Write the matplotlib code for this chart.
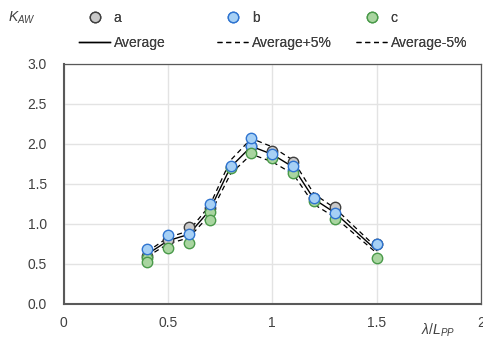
import matplotlib.pyplot as plt
import numpy as np

plt.rcParams['font.family'] = ['Liberation Sans', 'DejaVu Sans']
plt.rcParams['mathtext.fontset'] = 'custom'
plt.rcParams['mathtext.it'] = 'Liberation Sans:italic'
plt.rcParams['mathtext.rm'] = 'Liberation Sans'

# wave length ratio
x = [0.4, 0.5, 0.6, 0.7, 0.8, 0.9, 1.0, 1.1, 1.2, 1.3, 1.5]
a = [0.60, 0.80, 0.96, 1.20, 1.71, 1.98, 1.91, 1.78, 1.33, 1.21, 0.75]
b = [0.69, 0.86, 0.88, 1.25, 1.73, 2.07, 1.87, 1.72, 1.33, 1.14, 0.75]
c = [0.53, 0.70, 0.76, 1.05, 1.70, 1.89, 1.83, 1.64, 1.29, 1.06, 0.57]
c2 = [0.58, None, None, 1.15, None, None, None, None, None, None, None]
b2 = [None, None, None, None, None, 1.97, None, 1.68, None, None, None]
avg = [0.62, 0.79, 0.87, 1.17, 1.71, 1.97, 1.87, 1.71, 1.31, 1.14, 0.67]

avg = np.array(avg)
grey = '#595959'

fig = plt.figure(figsize=(4.83, 3.40), dpi=100)
ax = fig.add_axes([0.1315, 0.106, 0.8644, 0.706])

l1, = ax.plot(x, avg, color='black', lw=1.0, zorder=3)
l2, = ax.plot(x, avg * 1.05, color='black', lw=0.9, ls=(0, (4, 3)), zorder=3)
l3, = ax.plot(x, avg * 0.95, color='black', lw=0.9, ls=(0, (4, 3)), zorder=3)

mk = dict(marker='o', ms=7.5, mew=1.0, ls='none', zorder=4)
ha, = ax.plot(x, a, mfc='#c9c9c9', mec='#404040', **mk)
xs = [xi for xi, v in zip(x, c2) if v is not None]
ax.plot(xs, [v for v in c2 if v is not None], mfc='#a9d5a0', mec='#4a9a4a', **mk)
xs = [xi for xi, v in zip(x, b2) if v is not None]
ax.plot(xs, [v for v in b2 if v is not None], mfc='#a6d0f5', mec='#2f74d0', **mk)
hc, = ax.plot(x, c, mfc='#a9d5a0', mec='#4a9a4a', **mk)
hb, = ax.plot(x, b, mfc='#a6d0f5', mec='#2f74d0', **mk)

ax.set_xlim(0, 2)
ax.set_ylim(0, 3)
ax.set_xticks([0, 0.5, 1, 1.5, 2])
ax.set_xticklabels(['0', '0.5', '1', '1.5', '2'])
ax.set_yticks(np.arange(0, 3.01, 0.5))
ax.set_yticklabels(['%.1f' % v for v in np.arange(0, 3.01, 0.5)])
ax.tick_params(length=0, labelsize=10, colors='#404040')
ax.tick_params(axis='y', pad=12)
ax.tick_params(axis='x', pad=8.5)
ax.grid(color='#e3e3e3', lw=1.0)
ax.set_axisbelow(True)
for s in ['top', 'right']:
    ax.spines[s].set_color(grey)
    ax.spines[s].set_linewidth(0.9)
for s in ['left', 'bottom']:
    ax.spines[s].set_color(grey)
    ax.spines[s].set_linewidth(1.5)

fig.text(438 / 483, 1 - 330 / 340, r'$\lambda/L_{PP}$', fontsize=10, ha='center', va='center',
         color='#404040')
fig.text(22 / 483, 1 - 18 / 340, r'$K_{AW}$', fontsize=10, ha='center', va='center',
         color='#404040')

cols = [(ha, l1, 'a', 'Average', 79), (hb, l2, 'b', 'Average+5%', 217),
        (hc, l3, 'c', 'Average-5%', 356)]
for hm, hl, lm, ll, px in cols:
    leg = fig.legend([hm, hl], [lm, ll], loc='upper left',
                     bbox_to_anchor=(px / 483, 1 - 11 / 340), borderpad=0,
                     borderaxespad=0, frameon=False, fontsize=10, handlelength=2.25,
                     handletextpad=0.25, labelspacing=0.8, labelcolor='#404040')
    fig.add_artist(leg)

fig.savefig('out.png', dpi=100)
